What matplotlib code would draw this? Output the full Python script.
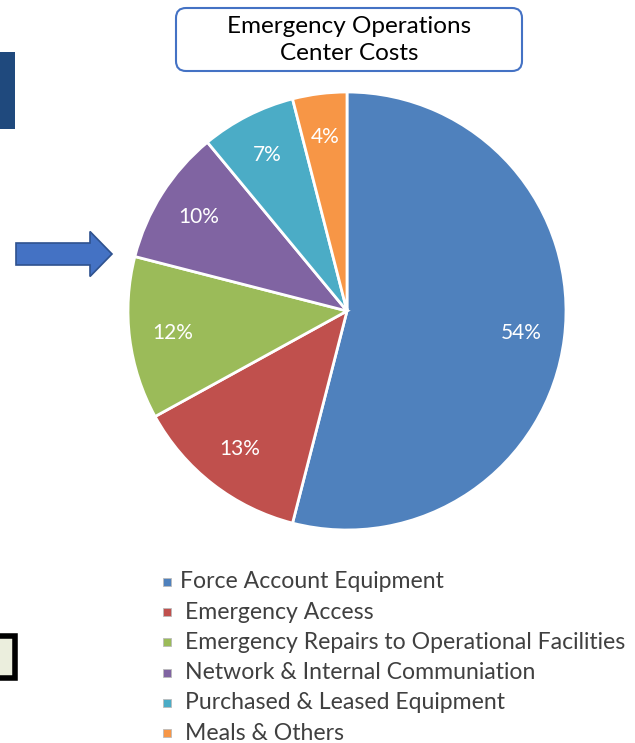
import matplotlib
matplotlib.use("Agg")
import matplotlib.pyplot as plt
from matplotlib.patches import FancyBboxPatch, Rectangle, FancyArrow

categories = ["Force Account Equipment", "Emergency Access",
              "Emergency Repairs to Operational Facilities",
              "Network & Internal Communiation",
              "Purchased & Leased Equipment", "Meals & Others"]
values = [54, 13, 12, 10, 7, 4]
colors = ["#4F81BD", "#C0504D", "#9BBB59", "#8064A2", "#4BACC6", "#F79646"]
title_text = "Emergency Operations\nCenter Costs"

W, H = 635, 743
fig = plt.figure(figsize=(W / 100, H / 100), dpi=100)
FONT = ["Lato", "DejaVu Sans"]

def fx(x):
    return x / W

def fy(y):
    return 1 - y / H

# pie axes (pixel box)
cx, cy, R = 347, 311, 219
ax = fig.add_axes([fx(cx - R), fy(cy + R), 2 * R / W, 2 * R / H])
wedges, texts, autotexts = ax.pie(
    values, colors=colors, startangle=90, counterclock=False,
    autopct="%d%%", pctdistance=0.8,
    wedgeprops=dict(edgecolor="white", linewidth=2),
    textprops=dict(color="white", fontsize=15, family=FONT))
ax.set_xlim(-1, 1)
ax.set_ylim(-1, 1)
ax.set_aspect("equal")
ax.axis("off")

# overlay axes for decorations, in pixel coordinates
ov = fig.add_axes([0, 0, 1, 1], zorder=-1)
ov.set_xlim(0, W)
ov.set_ylim(H, 0)
ov.axis("off")

# title box
ov.add_patch(FancyBboxPatch((176, 8), 346, 63, boxstyle="round,pad=0,rounding_size=10",
                            facecolor="white", edgecolor="#4472C4", linewidth=1.5))
fig.text(fx(349), fy(40), title_text, ha="center", va="center", fontsize=17.5,
         family=FONT, color="black", linespacing=1.35)

# left dark block
ov.add_patch(Rectangle((0, 52), 15, 77, facecolor="#1F497D", edgecolor="none"))

# arrow
ov.add_patch(FancyArrow(16, 254, 74, 0, width=22, head_width=45, head_length=22,
                        length_includes_head=False, facecolor="#4472C4",
                        edgecolor="#2F528F", linewidth=1.2))

# bottom-left box
ov.add_patch(Rectangle((-5, 636), 20, 42, facecolor="#EBEEDD", edgecolor="black", linewidth=4))

# legend
y0, dy = 582, 30.2
for i, (cat, col) in enumerate(zip(categories, colors)):
    y = y0 + i * dy
    ov.add_patch(Rectangle((163, y - 4), 8, 8, facecolor=col, edgecolor="#BBBBBB", linewidth=0.6))
    fig.text(fx(180 if i == 0 else 185), fy(y), cat, ha="left", va="center",
             fontsize=16.6, family=FONT, color="#404040")

fig.savefig("out.png", dpi=100)
